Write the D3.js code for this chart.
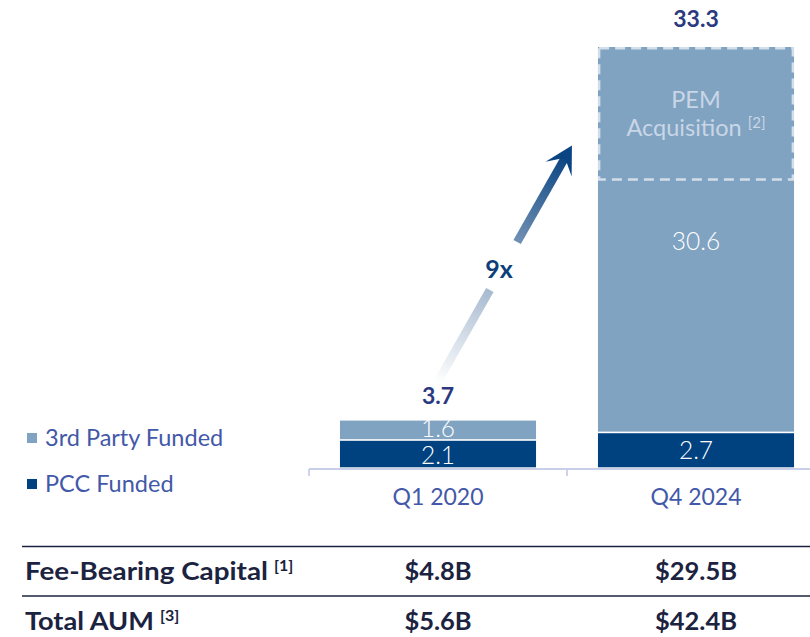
<!DOCTYPE html>
<html>
<head>
<meta charset="utf-8">
<script src="https://cdn.jsdelivr.net/npm/d3@7"></script>
<style>
  html, body { margin: 0; padding: 0; background: #ffffff; }
  svg { display: block; }
  text { font-family: Lato, "Noto Sans", sans-serif; }
</style>
</head>
<body>
<svg id="chart" width="810" height="637"></svg>
<script>
// ---------- data ----------
const categories = ["Q1 2020", "Q4 2024"];
const pccFunded = [2.1, 2.7];
const thirdPartyFunded = [1.6, 30.6];
const totals = [3.7, 33.3];
const pemAcquisition = [0, 10.5];
const seriesNames = ["3rd Party Funded", "PCC Funded"];
const growthLabel = "9x";
const tableRowLabels = ["Fee-Bearing Capital", "Total AUM"];
const tableRowNotes = ["[1]", "[3]"];
const feeBearingCapital = ["$4.8B", "$29.5B"];
const totalAUM = ["$5.6B", "$42.4B"];
const pemLabelLines = ["PEM", "Acquisition"];
const pemNote = "[2]";

// ---------- styling ----------
const C = {
  light: "#80a3c2",
  dark: "#00427f",
  navy: "#2b3a80",
  legend: "#4358a8",
  axis: "#c9cfe9",
  table: "#1c2340",
  pemText: "#c9d6e6",
  pemStroke: "#d3deeb"
};

const svg = d3.select("#chart");

// ---------- scales ----------
const x = d3.scaleBand().domain(categories).range([309, 825]).paddingInner(0.24).paddingOuter(0.12);
const y = d3.scaleLinear().domain([0, 33.3]).range([467.3, 47]);
const gap = 1.6;

// ---------- bars ----------
const gBars = svg.append("g");
categories.forEach((c, i) => {
  const x0 = x(c), w = x.bandwidth();
  gBars.append("rect")
    .attr("x", x0).attr("width", w)
    .attr("y", y(pccFunded[i])).attr("height", y(0) - y(pccFunded[i]))
    .attr("fill", C.dark);
  const top = y(pccFunded[i] + thirdPartyFunded[i]);
  const bot = y(pccFunded[i]) - gap;
  gBars.append("rect")
    .attr("x", x0).attr("width", w)
    .attr("y", top).attr("height", bot - top)
    .attr("fill", C.light);
});

// PEM acquisition dashed overlay
categories.forEach((c, i) => {
  if (!pemAcquisition[i]) return;
  const x0 = x(c), w = x.bandwidth();
  const top = y(totals[i]);
  const bot = y(totals[i] - pemAcquisition[i]);
  svg.append("rect")
    .attr("x", x0 + 1.2).attr("width", w - 2.4)
    .attr("y", top + 1.2).attr("height", bot - top - 1.2)
    .attr("fill", "none")
    .attr("stroke", C.pemStroke)
    .attr("stroke-width", 2.4)
    .attr("stroke-dasharray", "10,6");
  const cx = x0 + w / 2;
  svg.append("text").attr("x", cx).attr("y", top + 61)
    .attr("text-anchor", "middle").attr("font-size", 23.5).attr("fill", C.pemText)
    .text(pemLabelLines[0]);
  const t2 = svg.append("text").attr("x", cx).attr("y", top + 89)
    .attr("text-anchor", "middle").attr("font-size", 23.5).attr("fill", C.pemText);
  t2.append("tspan").text(pemLabelLines[1] + " ");
  t2.append("tspan").attr("font-size", 15).attr("dy", -8).text(pemNote);
});

// value labels inside bars
categories.forEach((c, i) => {
  const cx = x(c) + x.bandwidth() / 2;
  const yPcc = (y(0) + y(pccFunded[i])) / 2;
  svg.append("text").attr("x", cx).attr("y", i === 0 ? yPcc + 9.5 : yPcc + 8.5)
    .attr("text-anchor", "middle").attr("font-size", 24.5).attr("font-weight", 300)
    .attr("fill", "#ffffff").text(pccFunded[i].toFixed(1));
  let yTp;
  if (i === 0) yTp = (y(pccFunded[i]) + y(totals[i])) / 2 + 6;
  else yTp = y(totals[i] - pemAcquisition[i]) + 70;
  svg.append("text").attr("x", cx).attr("y", yTp)
    .attr("text-anchor", "middle").attr("font-size", 24.5).attr("font-weight", 300)
    .attr("fill", "#ffffff").text(thirdPartyFunded[i].toFixed(1));
});

// totals
categories.forEach((c, i) => {
  const cx = x(c) + x.bandwidth() / 2;
  svg.append("text").attr("x", cx).attr("y", y(totals[i]) - (i === 0 ? 17 : 20))
    .attr("text-anchor", "middle").attr("font-size", 23).attr("font-weight", 700)
    .attr("fill", C.navy).text(totals[i].toFixed(1));
});

// ---------- axis ----------
const axisY = 469;
const step = x.step();
const tickXs = categories.map(c => x(c) - step * x.paddingInner() / 2);
svg.append("line").attr("x1", tickXs[0]).attr("x2", 810).attr("y1", axisY).attr("y2", axisY)
  .attr("stroke", C.axis).attr("stroke-width", 1.8);
tickXs.forEach(tx => {
  svg.append("line").attr("x1", tx).attr("x2", tx).attr("y1", axisY).attr("y2", axisY + 7)
    .attr("stroke", C.axis).attr("stroke-width", 1.8);
});
categories.forEach(c => {
  svg.append("text").attr("x", x(c) + x.bandwidth() / 2).attr("y", 505)
    .attr("text-anchor", "middle").attr("font-size", 23).attr("fill", C.legend).text(c);
});

// ---------- legend ----------
const legendColors = [C.light, C.dark];
seriesNames.forEach((s, i) => {
  const ly = 438 + i * 46;
  svg.append("rect").attr("x", 27).attr("y", ly - 5).attr("width", 10).attr("height", 10)
    .attr("fill", legendColors[i]);
  svg.append("text").attr("x", 45).attr("y", ly + 8).attr("font-size", 23.5)
    .attr("fill", C.legend).text(s);
});

// ---------- growth arrow ----------
const p0 = [437, 383], p1 = [566, 156];
const defs = svg.append("defs");
const grad = defs.append("linearGradient").attr("id", "arrowGrad")
  .attr("gradientUnits", "userSpaceOnUse")
  .attr("x1", p0[0]).attr("y1", p0[1]).attr("x2", p1[0]).attr("y2", p1[1]);
grad.append("stop").attr("offset", "0%").attr("stop-color", "#ffffff");
grad.append("stop").attr("offset", "45%").attr("stop-color", "#9fb3cb");
grad.append("stop").attr("offset", "100%").attr("stop-color", "#0a4482");
const lerp = t => [p0[0] + (p1[0] - p0[0]) * t, p0[1] + (p1[1] - p0[1]) * t];
const tAt = yy => (yy - p0[1]) / (p1[1] - p0[1]);
const segs = [[0, tAt(290)], [tAt(242), 1]];
segs.forEach(([a, b]) => {
  const A = lerp(a), B = lerp(b);
  svg.append("line").attr("x1", A[0]).attr("y1", A[1]).attr("x2", B[0]).attr("y2", B[1])
    .attr("stroke", "url(#arrowGrad)").attr("stroke-width", 8.5);
});
(function () {
  const dx = p1[0] - p0[0], dy = p1[1] - p0[1];
  const L = Math.hypot(dx, dy);
  const u = [dx / L, dy / L], n = [-u[1], u[0]];
  const tip = [p1[0] + u[0] * 12, p1[1] + u[1] * 12];
  const hl = 27, hw = 15, notch = 14;
  const base = [tip[0] - u[0] * hl, tip[1] - u[1] * hl];
  const c1 = [base[0] + n[0] * hw, base[1] + n[1] * hw];
  const c2 = [base[0] - n[0] * hw, base[1] - n[1] * hw];
  const nb = [tip[0] - u[0] * notch, tip[1] - u[1] * notch];
  svg.append("path").attr("d", `M${tip}L${c1}L${nb}L${c2}Z`).attr("fill", "#0a4482");
})();
svg.append("text").attr("x", 499).attr("y", 278).attr("text-anchor", "middle")
  .attr("font-size", 25).attr("font-weight", 700).attr("fill", "#0c3f7a").text(growthLabel);

// ---------- table ----------
const lineYs = [546.5, 596];
lineYs.forEach(ly => {
  svg.append("line").attr("x1", 22).attr("x2", 810).attr("y1", ly).attr("y2", ly)
    .attr("stroke", C.table).attr("stroke-width", 1.6);
});
const rowYs = [580, 630];
const tableValues = [feeBearingCapital, totalAUM];
const labelWidths = [243, 129];
tableRowLabels.forEach((lab, r) => {
  const g = svg.append("g").attr("transform", `translate(25,${rowYs[r]})`);
  const t = g.append("text").attr("x", 0).attr("y", 0).attr("font-size", 25)
    .attr("font-weight", 700).attr("fill", C.table).text(lab);
  const w = t.node().getComputedTextLength();
  const s = labelWidths[r] / w;
  t.attr("transform", `scale(${s},1)`);
  g.append("text").attr("x", labelWidths[r] + 6).attr("y", -9).attr("font-size", 16)
    .attr("font-weight", 700).attr("fill", C.table).text(tableRowNotes[r]);
  categories.forEach((c, i) => {
    const cx = x(c) + x.bandwidth() / 2;
    svg.append("text").attr("x", cx).attr("y", rowYs[r]).attr("text-anchor", "middle")
      .attr("font-size", 25.5).attr("font-weight", 700).attr("fill", C.table)
      .text(tableValues[r][i]);
  });
});
</script>
</body>
</html>
